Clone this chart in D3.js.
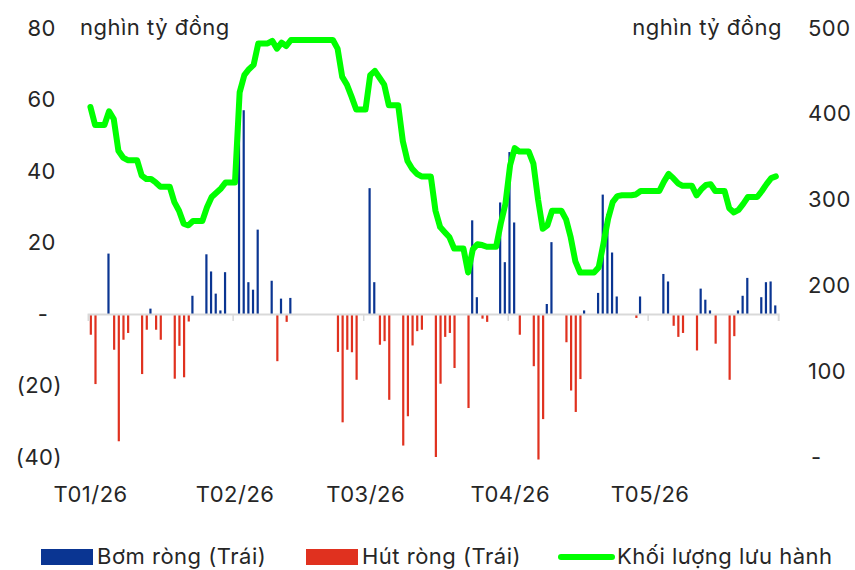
<!DOCTYPE html>
<html>
<head>
<meta charset="utf-8">
<script src="https://cdn.jsdelivr.net/npm/d3@7"></script>
<style>
  body { margin: 0; background: #fff; }
  svg text { font-family: Inter, "Noto Sans", sans-serif; font-size: 22px; letter-spacing: 0.5px; fill: #262626; }
</style>
</head>
<body>
<svg id="chart" width="855" height="570"></svg>
<script>
// daily outstanding volume (right axis), one value per calendar day from 01/01/2026
var lineStart = "2026-01-01";
var lineValues = [
  408, 387, 387, 387, 403, 394, 357, 349, 346, 346, 346, 328, 324, 324, 320, 315, 315, 315,
  297, 287, 272, 270, 275, 275, 275, 291, 303, 308, 313, 320, 320, 320,
  425, 445, 452, 457, 482, 482, 482, 485, 476, 483, 479, 486, 486, 486, 486, 486, 486, 486,
  486, 486, 486, 476, 443, 434, 420, 405, 405, 405,
  445, 450, 442, 434, 410, 410, 410, 368, 345, 336, 330, 327, 327, 327, 287, 268, 262, 256,
  243, 243, 243, 215, 242, 248, 247, 245, 245, 245, 272, 295,
  340, 360, 356, 356, 356, 342, 300, 266, 270, 287, 287, 287, 277, 256, 228, 215, 215, 215,
  215, 221, 248, 277, 297, 304, 305, 305, 305, 306, 310, 310,
  310, 310, 310, 321, 330, 325, 319, 316, 316, 316, 305, 312, 317, 318, 310, 310, 310, 290,
  285, 288, 295, 303, 303, 303, 310, 318, 325, 327
];

// net injection (left axis)
var injectDates = [
  "2026-01-05", "2026-01-14", "2026-01-23", "2026-01-26", "2026-01-27", "2026-01-28", "2026-01-29", "2026-01-30",
  "2026-02-02", "2026-02-03", "2026-02-04", "2026-02-05", "2026-02-06", "2026-02-09", "2026-02-11", "2026-02-13",
  "2026-03-02", "2026-03-03", "2026-03-24", "2026-03-25", "2026-03-30", "2026-03-31",
  "2026-04-01", "2026-04-02", "2026-04-09", "2026-04-10", "2026-04-17", "2026-04-20", "2026-04-21", "2026-04-22",
  "2026-04-23", "2026-04-24", "2026-04-29",
  "2026-05-04", "2026-05-05", "2026-05-12", "2026-05-13", "2026-05-14", "2026-05-20", "2026-05-21", "2026-05-22",
  "2026-05-25", "2026-05-26", "2026-05-27", "2026-05-28"
];
var injectValues = [
  16.9, 1.5, 5.1, 16.7, 11.9, 5.7, 1.0, 11.7,
  55.5, 57, 8.9, 6.8, 23.6, 9.3, 4.3, 4.5,
  35.2, 8.9, 26.2, 4.7, 31.2, 14.5,
  45.3, 25.6, 2.8, 20.1, 1.0, 5.9, 33.4, 28,
  17.2, 4.9, 4.9,
  11.2, 9.1, 7.1, 4.0, 1.0, 1.0, 5.1, 10.1,
  4.7, 8.9, 9.1, 2.4
];

// net withdrawal (left axis)
var withdrawDates = [
  "2026-01-01", "2026-01-02", "2026-01-06", "2026-01-07", "2026-01-08", "2026-01-09", "2026-01-12", "2026-01-13",
  "2026-01-15", "2026-01-16", "2026-01-19", "2026-01-20", "2026-01-21", "2026-01-22",
  "2026-02-10", "2026-02-12", "2026-02-23", "2026-02-24", "2026-02-25", "2026-02-26", "2026-02-27",
  "2026-03-04", "2026-03-05", "2026-03-06", "2026-03-09", "2026-03-10", "2026-03-11", "2026-03-12", "2026-03-13",
  "2026-03-16", "2026-03-17", "2026-03-18", "2026-03-19", "2026-03-20", "2026-03-23", "2026-03-26", "2026-03-27",
  "2026-04-03", "2026-04-06", "2026-04-07", "2026-04-08", "2026-04-13", "2026-04-14", "2026-04-15", "2026-04-16",
  "2026-04-28", "2026-05-06", "2026-05-07", "2026-05-08", "2026-05-11", "2026-05-15", "2026-05-18", "2026-05-19"
];
var withdrawValues = [
  -5.8, -19.6, -10.0, -35.6, -7.2, -5.3, -16.8, -4.4,
  -4.4, -7.2, -18.1, -8.9, -17.7, -2.1,
  -13.2, -2.2, -10.6, -30.3, -10.0, -10.7, -18.4,
  -8.6, -7.6, -24.0, -36.8, -28.6, -8.8, -4.8, -4.4,
  -40.0, -19.5, -6.4, -5.3, -15.1, -26.3, -1.3, -2.2,
  -5.8, -14.6, -40.7, -29.4, -7.9, -21.4, -27.4, -18.2,
  -1.1, -3.3, -6.4, -5.3, -10.2, -8.3, -18.4, -6.2
];

var leftTicks = [-40, -20, 0, 20, 40, 60, 80];
var rightTicks = [0, 100, 200, 300, 400, 500];
var unitLabel = "nghìn tỷ đồng";
var legendLabels = ["Bơm ròng (Trái)", "Hút ròng (Trái)", "Khối lượng lưu hành"];

var blue = "#0a3592", red = "#e0311f", green = "#00ff00", grid = "#d9d9d9";

var parseDate = d3.timeParse("%Y-%m-%d");
var svg = d3.select("#chart");

var plot = {left: 88.1, right: 778.2, top: 28, bottom: 457};

var x = d3.scaleTime()
    .domain([parseDate("2026-01-01"), parseDate("2026-05-29")])
    .range([plot.left, plot.right]);
var yL = d3.scaleLinear().domain([-40, 80]).range([plot.bottom, plot.top]);
var yR = d3.scaleLinear().domain([0, 500]).range([plot.bottom, plot.top]);

// centre of a day slot
function mid(d) { return x(d3.timeHour.offset(d, 12)); }

var barW = 2.2;

var inject = injectDates.map((d, i) => ({date: parseDate(d), value: injectValues[i]}));
var withdraw = withdrawDates.map((d, i) => ({date: parseDate(d), value: withdrawValues[i]}));
var start = parseDate(lineStart);
var volume = lineValues.map((v, i) => ({date: d3.timeDay.offset(start, i), value: v}));

svg.append("g").selectAll("rect")
    .data(inject)
    .enter().append("rect")
    .attr("x", d => mid(d.date) - 0.6 - barW / 2)
    .attr("y", d => yL(d.value))
    .attr("width", barW)
    .attr("height", d => yL(0) - yL(d.value))
    .attr("fill", blue);

svg.append("g").selectAll("rect")
    .data(withdraw)
    .enter().append("rect")
    .attr("x", d => mid(d.date) + 0.4 - barW / 2)
    .attr("y", yL(0))
    .attr("width", barW)
    .attr("height", d => yL(d.value) - yL(0))
    .attr("fill", red);

// zero line with month ticks
var xAxis = svg.append("g")
    .attr("transform", "translate(0," + yL(0) + ")")
    .call(d3.axisBottom(x).ticks(d3.timeMonth.every(1)).tickSize(7).tickFormat(""));
xAxis.select(".domain").attr("stroke", grid).attr("stroke-width", 2);
xAxis.selectAll(".tick line").attr("stroke", grid).attr("stroke-width", 1.5);

// month labels
var xLabels = svg.append("g")
    .attr("transform", "translate(2,486)")
    .call(d3.axisBottom(x).ticks(d3.timeMonth.every(1)).tickSize(0).tickPadding(0)
      .tickFormat(d3.timeFormat("T%m/%y")));
xLabels.select(".domain").remove();
xLabels.selectAll("text").attr("font-size", null).attr("font-family", null).attr("fill", null);

var line = d3.line()
    .x(d => mid(d.date))
    .y(d => yR(d.value))
    .curve(d3.curveLinear);

svg.append("path")
    .datum(volume)
    .attr("fill", "none")
    .attr("stroke", green)
    .attr("stroke-width", 6)
    .attr("stroke-linejoin", "round")
    .attr("stroke-linecap", "round")
    .attr("d", line);

// left axis
var leftAxis = svg.append("g")
    .attr("transform", "translate(62,0)")
    .call(d3.axisLeft(yL).tickValues(leftTicks).tickSize(0).tickPadding(0)
      .tickFormat(d => d === 0 ? "-" : d < 0 ? "(" + (-d) + ")" : d));
leftAxis.select(".domain").remove();
leftAxis.selectAll("text")
    .attr("font-size", null).attr("font-family", null).attr("fill", null)
    .attr("x", d => d === 0 ? -19 : d > 0 ? -6 : 0)
    .attr("text-anchor", d => d === 0 ? "middle" : "end");

// right axis
var rightAxis = svg.append("g")
    .attr("transform", "translate(808,0)")
    .call(d3.axisRight(yR).tickValues(rightTicks).tickSize(0).tickPadding(0)
      .tickFormat(d => d === 0 ? "-" : d));
rightAxis.select(".domain").remove();
rightAxis.selectAll("text")
    .attr("font-size", null).attr("font-family", null).attr("fill", null)
    .attr("x", d => d === 0 ? 3 : 0);

svg.append("text").attr("x", 80).attr("y", yL(80)).attr("dy", "0.32em").text(unitLabel);
svg.append("text").attr("x", 782).attr("y", yR(500)).attr("dy", "0.32em")
    .attr("text-anchor", "end").text(unitLabel);

// legend
var legend = svg.append("g").attr("transform", "translate(0,557)");
legend.append("rect").attr("x", 41).attr("y", -8).attr("width", 52).attr("height", 16).attr("fill", blue);
legend.append("text").attr("x", 97).attr("dy", "0.32em").text(legendLabels[0]);
legend.append("rect").attr("x", 306).attr("y", -8).attr("width", 52).attr("height", 16).attr("fill", red);
legend.append("text").attr("x", 362).attr("dy", "0.32em").text(legendLabels[1]);
legend.append("line").attr("x1", 561).attr("x2", 612).attr("stroke", green)
    .attr("stroke-width", 6).attr("stroke-linecap", "round");
legend.append("text").attr("x", 617).attr("dy", "0.32em").text(legendLabels[2]);
</script>
</body>
</html>
